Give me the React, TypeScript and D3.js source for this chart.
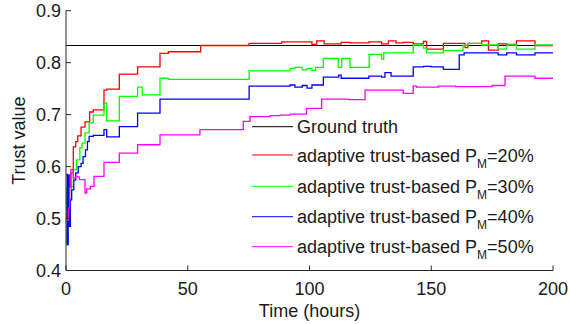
import * as d3 from "d3";

type Pt = [number, number];

// step points: [hours, trust value]
const groundTruth: Pt[] = [[0, 0.833], [200, 0.833]];

const pm20: Pt[] = [
  [0, 0.5], [0.4, 0.55], [0.9, 0.52], [1.4, 0.56], [2, 0.588], [3, 0.638], [4, 0.648],
  [4.8, 0.659], [6.2, 0.676], [7.8, 0.686], [9.7, 0.705], [11.2, 0.709], [15.6, 0.747],
  [16.7, 0.749], [21.9, 0.778], [29.4, 0.792], [38.6, 0.818], [42, 0.821], [55.3, 0.833],
  [75.2, 0.837], [88.6, 0.84], [101, 0.835], [103, 0.842], [106, 0.836], [113, 0.839],
  [116.6, 0.838], [124.4, 0.84], [129.6, 0.836], [132.4, 0.842], [135.5, 0.838],
  [138.5, 0.839], [142.6, 0.836], [146.8, 0.841], [148.1, 0.826], [155, 0.837],
  [163.9, 0.829], [165, 0.837], [170.7, 0.842], [173.5, 0.824], [177.5, 0.836],
  [181, 0.835], [185, 0.842], [192.6, 0.833], [200, 0.833],
];

const pm30: Pt[] = [
  [0, 0.45], [0.4, 0.56], [0.9, 0.5], [1.6, 0.536], [2.3, 0.561], [3, 0.594], [4.3, 0.613],
  [5.7, 0.636], [6.6, 0.645], [7.8, 0.665], [9.5, 0.684], [11.2, 0.699], [15.6, 0.722],
  [16.7, 0.688], [21.9, 0.735], [29.4, 0.753], [31.3, 0.738], [38.6, 0.77], [42, 0.768],
  [75.2, 0.784], [92, 0.789], [94, 0.791], [97, 0.786], [99, 0.789], [101, 0.785],
  [102.5, 0.791], [105.7, 0.808], [111.8, 0.791], [113.2, 0.808], [116.6, 0.791],
  [124.5, 0.816], [129.6, 0.807], [130.5, 0.819], [142.6, 0.834], [146.8, 0.828],
  [148.1, 0.819], [155, 0.823], [163, 0.833], [165, 0.837], [170.7, 0.834],
  [177.5, 0.826], [181, 0.834], [185, 0.826], [192.6, 0.834], [200, 0.834],
];

const pm40: Pt[] = [
  [0, 0.585], [0.5, 0.45], [0.9, 0.584], [1.3, 0.485], [1.8, 0.536], [2.3, 0.555],
  [3.2, 0.574], [4, 0.588], [5, 0.6], [6.2, 0.606], [7, 0.619], [8, 0.632], [8.8, 0.648],
  [9.5, 0.658], [11.2, 0.66], [15.6, 0.671], [16.7, 0.657], [21.9, 0.677], [29.4, 0.703],
  [38.6, 0.73], [75.2, 0.755], [92, 0.757], [94, 0.753], [97, 0.756], [99, 0.751],
  [101, 0.757], [105.7, 0.772], [112, 0.776], [113, 0.77], [124.4, 0.774], [129.6, 0.772],
  [131, 0.781], [133.5, 0.774], [142.6, 0.792], [146.8, 0.793], [150, 0.792],
  [155, 0.787], [161.5, 0.815], [163.5, 0.819], [177.5, 0.815], [181, 0.819],
  [185, 0.815], [192.6, 0.819], [200, 0.819],
];

const pm50: Pt[] = [
  [0, 0.497], [1, 0.52], [1.5, 0.56], [2, 0.594], [3, 0.578], [4, 0.58], [5.5, 0.575],
  [7.8, 0.549], [8.5, 0.557], [10, 0.562], [11.5, 0.581], [15.6, 0.608], [21.9, 0.626],
  [29.4, 0.642], [38.6, 0.661], [55, 0.671], [72.8, 0.687], [75.6, 0.696], [83.8, 0.698],
  [87.9, 0.699], [92, 0.701], [98.8, 0.712], [105, 0.73], [116, 0.729], [122.8, 0.747],
  [138.5, 0.741], [142.6, 0.755], [144, 0.753], [153, 0.755], [160, 0.754], [175, 0.756],
  [180.3, 0.774], [192.6, 0.77], [200, 0.77],
];

const series = [
  { name: "Ground truth", pm: "", data: groundTruth, color: "#000000" },
  { name: "adaptive trust-based P", pm: "=20%", data: pm20, color: "#ff0000" },
  { name: "adaptive trust-based P", pm: "=30%", data: pm30, color: "#00ff00" },
  { name: "adaptive trust-based P", pm: "=40%", data: pm40, color: "#0000ff" },
  { name: "adaptive trust-based P", pm: "=50%", data: pm50, color: "#ff00ff" },
];

const xTicks = [0, 50, 100, 150, 200];
const yTicks = [0.4, 0.5, 0.6, 0.7, 0.8, 0.9];

const W = 570;
const H = 324;
const left = 66;
const right = 553;
const top = 10.7;
const bottom = 270.5;
const font = "'Liberation Sans', Arial, sans-serif";
const axisColor = "#262626";

export default function App() {
  const x = d3.scaleLinear().domain([0, 200]).range([left, right]);
  const y = d3.scaleLinear().domain([0.4, 0.9]).range([bottom, top]);
  const line = d3
    .line<Pt>()
    .x((d) => x(d[0]))
    .y((d) => y(d[1]))
    .curve(d3.curveStepAfter);

  const legendRows = [126.7, 155, 186.3, 216.7, 246.7];

  return (
    <div style={{ position: "fixed", left: 0, top: 0, background: "#fff" }}>
      <svg width={W} height={H} style={{ display: "block" }} fontFamily={font}>
        <rect width={W} height={H} fill="#fff" />

        {/* data lines */}
        {series.map((s, i) => (
          <path
            key={i}
            d={line(s.data) ?? ""}
            fill="none"
            stroke={s.color}
            strokeWidth={i === 0 ? 1 : 1.3}
          />
        ))}

        {/* axes */}
        <line x1={left} x2={left} y1={top} y2={bottom} stroke={axisColor} strokeWidth={1} />
        <line x1={left} x2={right} y1={bottom} y2={bottom} stroke={axisColor} strokeWidth={1} />
        {yTicks.map((t) => (
          <g key={t}>
            <line x1={left} x2={left + 5} y1={y(t)} y2={y(t)} stroke={axisColor} />
            <text x={61} y={y(t) + 6.5} textAnchor="end" fontSize={18} fill="#1a1a1a">
              {d3.format(".1f")(t)}
            </text>
          </g>
        ))}
        {xTicks.map((t) => (
          <g key={t}>
            <line x1={x(t)} x2={x(t)} y1={bottom} y2={bottom - 5} stroke={axisColor} />
            <text x={x(t)} y={295} textAnchor="middle" fontSize={18} fill="#1a1a1a">
              {t}
            </text>
          </g>
        ))}
        <text
          transform={`translate(25,${(top + bottom) / 2}) rotate(-90)`}
          textAnchor="middle"
          fontSize={18}
          fill="#1a1a1a"
        >
          Trust value
        </text>
        <text x={(left + right) / 2} y={317} textAnchor="middle" fontSize={18} fill="#1a1a1a">
          Time (hours)
        </text>

        {/* legend */}
        {series.map((s, i) => (
          <g key={i}>
            <line
              x1={252}
              x2={293}
              y1={legendRows[i]}
              y2={legendRows[i]}
              stroke={s.color}
              strokeWidth={1}
            />
            <text x={297} y={legendRows[i] + 6.5} fontSize={18} fill="#1a1a1a">
              {s.name}
              {s.pm && (
                <>
                  <tspan fontSize={12} dy={6}>M</tspan>
                  <tspan dy={-6}>{s.pm}</tspan>
                </>
              )}
            </text>
          </g>
        ))}
      </svg>
    </div>
  );
}
